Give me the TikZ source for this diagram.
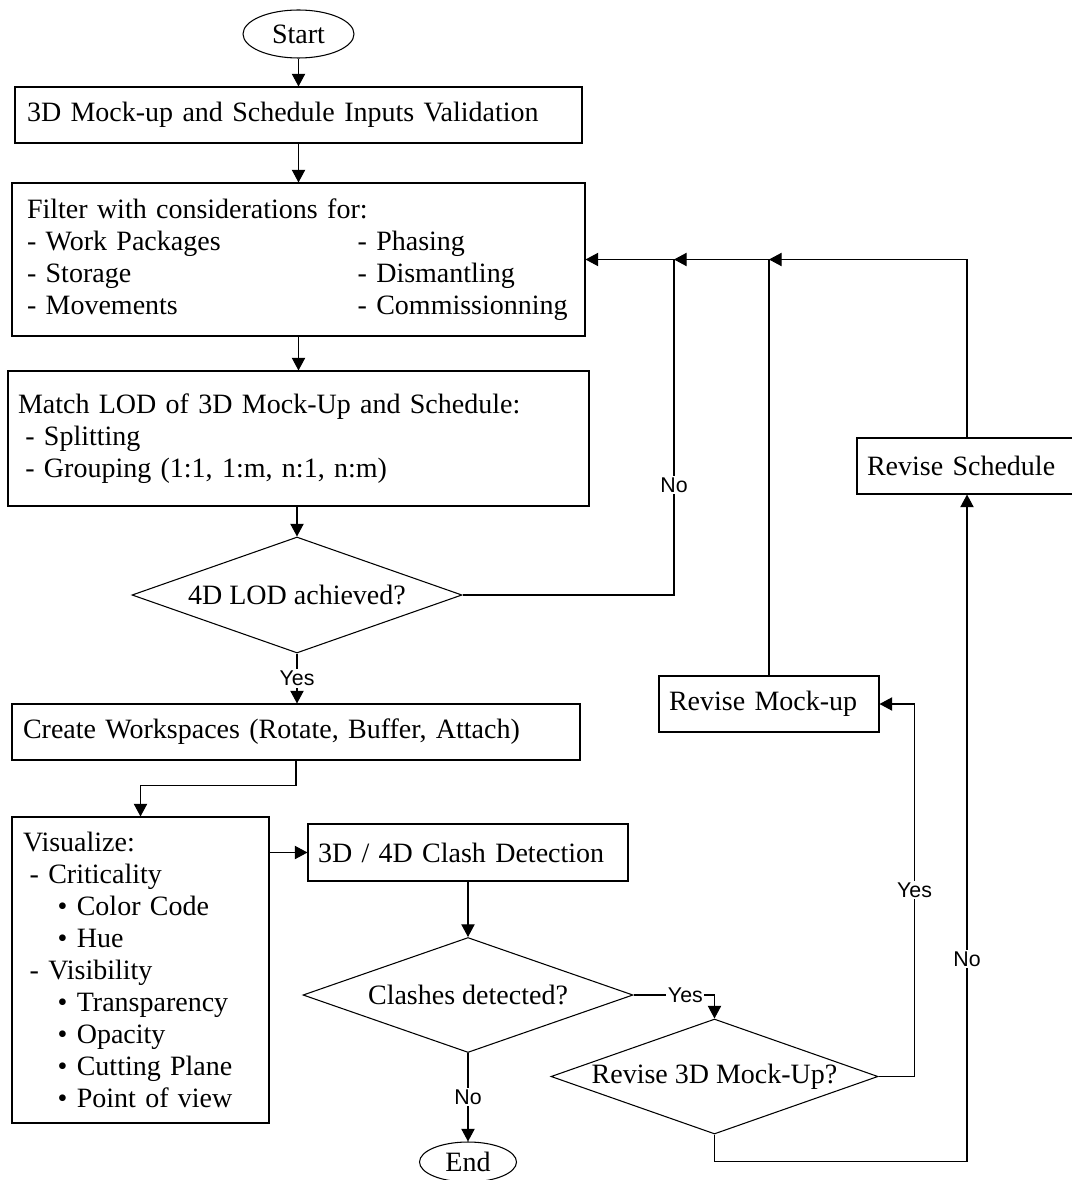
\documentclass[tikz,border=0pt]{standalone}
\usepackage{fontspec}
\setmainfont{Liberation Serif}
\newfontfamily\lblfont{Liberation Sans}
\usetikzlibrary{shapes.geometric,arrows.meta}
\newcommand\mainfs{\fontsize{21pt}{24pt}\selectfont}
\newcommand\lblfs{\lblfont\fontsize{16pt}{18pt}\selectfont}
\begin{document}
\begin{tikzpicture}[x=0.75pt,y=-0.75pt,
  line width=0.8pt,
  arr/.style={-{Triangle[length=9.5pt,width=10pt]}},
  pbox/.style n args={4}{draw, rectangle, font=\mainfs, align=left, minimum width=#1, minimum height=#2, text width=#3, inner xsep=#4, inner ysep=0pt},
  dec/.style n args={2}{draw, diamond, font=\mainfs, aspect=2.85, inner sep=0pt, minimum width=#1, minimum height=#2},
  term/.style n args={2}{draw, ellipse, font=\mainfs, inner sep=0pt, minimum width=#1, minimum height=#2},
  lbl/.style={font=\lblfs, fill=white, inner sep=1.2pt},
]
\useasboundingbox (0,0) rectangle (1071,1180);
\node[term={83.25pt}{36pt}] (start) at (298.5,34) {Start};
\node[pbox={425.25pt}{42pt}{407.25pt}{9pt}] (b1) at (298.5,115) {3D Mock-up and Schedule Inputs Validation};
\node[pbox={429.75pt}{114.75pt}{407.25pt}{11.25pt}] (b2) at (298.5,259.5) {Filter with considerations for:\\
\makebox[248pt][l]{- Work Packages}\mbox{- Phasing}\\
\makebox[248pt][l]{- Storage}\mbox{- Dismantling}\\
\makebox[248pt][l]{- Movements}\mbox{- Commissionning}};
\node[pbox={435.75pt}{101.25pt}{420.75pt}{7.5pt}] (b3) at (298.5,438.5) {Match LOD of 3D Mock-Up and Schedule:\\
\hspace*{5.5pt}- Splitting\\
\hspace*{5.5pt}- Grouping (1:1, 1:m, n:1, n:m)};
\node[dec={247.5pt}{87pt}] (d1) at (297,595) {4D LOD achieved?};
\node[pbox={426pt}{42pt}{409.5pt}{8.25pt}] (b4) at (296,732) {Create Workspaces (Rotate, Buffer, Attach)};
\node[pbox={192.75pt}{229.5pt}{176.25pt}{8.25pt}] (b5) at (140.5,970) {Visualize:\\
\hspace*{5pt}- Criticality\\
\hspace*{26pt}\textbullet\ Color Code\\
\hspace*{26pt}\textbullet\ Hue\\
\hspace*{5pt}- Visibility\\
\hspace*{26pt}\textbullet\ Transparency\\
\hspace*{26pt}\textbullet\ Opacity\\
\hspace*{26pt}\textbullet\ Cutting Plane\\
\hspace*{26pt}\textbullet\ Point of view};
\node[pbox={240pt}{42.75pt}{225pt}{7.5pt}] (b6) at (468,852.5) {3D / 4D Clash Detection};
\node[dec={247.5pt}{86.25pt}] (d2) at (468,995) {Clashes detected?};
\node[term={72.75pt}{30pt}] (end) at (468,1162) {End};
\node[dec={245.25pt}{86.25pt}] (d3) at (714.5,1076.5) {Revise 3D Mock-Up?};
\node[pbox={165pt}{42pt}{150pt}{7.5pt}] (rm) at (769,704) {Revise Mock-up};
\node[pbox={165pt}{42pt}{150pt}{7.5pt}] (rs) at (967,466) {Revise Schedule};
\coordinate (j1) at (674,259.5);
\coordinate (j2) at (769,259.5);
\draw[arr] (start) -- (b1);
\draw[arr] (b1) -- (b2);
\draw[arr] (b2) -- (b3);
\draw[arr] (d1.north |- b3.south) -- (d1.north);
\draw[arr] (d1.south) -- node[lbl]{Yes} (d1.south |- b4.north);
\draw[arr] (b4.south) -- ++(0,25) -| (b5.north);
\draw[arr] (b5.east |- b6.west) -- (b6.west);
\draw[arr] (b6) -- (d2);
\draw[arr] (d2) -- node[lbl]{No} (end);
\draw[arr] (d2.east) -| node[lbl,pos=0.32]{Yes} (d3.north);
\draw[arr] (d3.east) -- ++(36,0) |- node[lbl,pos=0.25]{Yes} (rm.east);
\draw[arr] (d3.south) -- ++(0,27) -| node[lbl,pos=0.652]{No} (rs.south);
\draw[arr] (d1.east) -| node[lbl,pos=0.664]{No} (j1) -- (j1 -| b2.east);
\draw[arr] (rm.north) |- (j1);
\draw[arr] (rs.north) |- (j2);
\end{tikzpicture}
\end{document}
